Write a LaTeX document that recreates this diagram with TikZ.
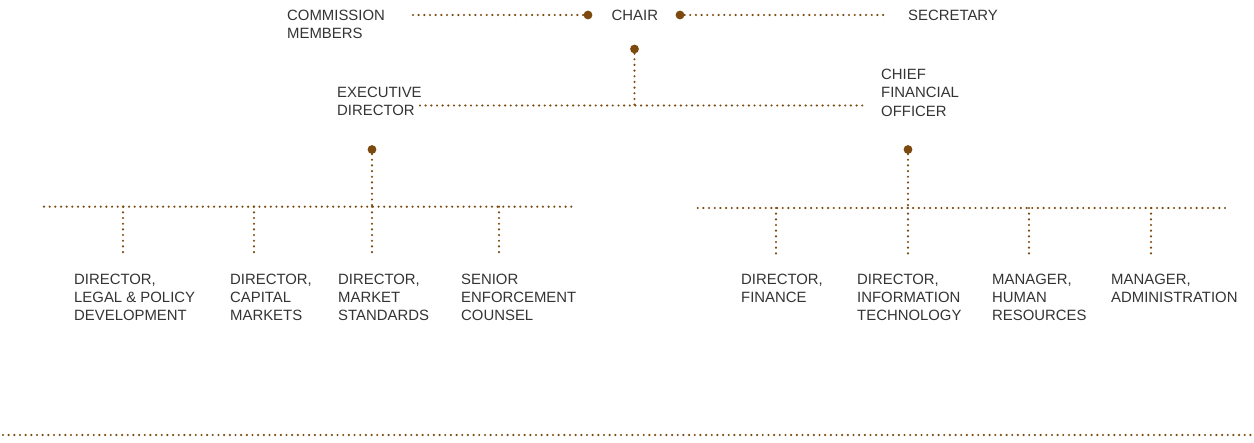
\documentclass[tikz,border=0pt]{standalone}
\usepackage{fontspec}
\setmainfont{Liberation Sans}
\definecolor{linkbrown}{RGB}{124,74,14}
\definecolor{labelgray}{RGB}{52,52,52}
\begin{document}
\begin{tikzpicture}[x=1pt,y=-1pt,
  link/.style={draw=linkbrown,line width=2.4pt,line cap=round,dash pattern=on 0pt off 5.67pt},
  bigdot/.style={circle,fill=linkbrown,inner sep=0pt,minimum size=8.8pt},
  label/.style={anchor=north west,inner sep=0pt,align=left,text=labelgray,
    font=\fontsize{14.9}{18.3}\selectfont}]
\useasboundingbox (0,0) rectangle (1254,443);

% --- top row: chair with commission members and secretary
\node[label] (members) at (287,10) {COMMISSION\\MEMBERS};
\node[label] (chair) at (611.5,9.8) {CHAIR};
\node[label] (secretary) at (908,9.8) {SECRETARY};
\node[bigdot] (chairL) at (588,15) {};
\node[bigdot] (chairR) at (680,15) {};
\node[bigdot] (chairB) at (634.5,49) {};
\coordinate (membersEnd) at (413,15);
\coordinate (secretaryEnd) at (887,15);
\draw[link] (membersEnd) -- (chairL);
\draw[link] (chairR) -- (secretaryEnd);

% --- second level: executive director and chief financial officer
\node[label] (exec) at (337,87) {EXECUTIVE\\DIRECTOR};
\node[label] (cfo) at (881,69) {CHIEF\\FINANCIAL\\OFFICER};
\coordinate (barL) at (420,105.5);
\coordinate (barR) at (867,105.5);
\coordinate (barMid) at (634.5,105.5);
\draw[link] (barL) -- (barR);
\draw[link] (chairB) -- (barMid);

% --- executive director branch
\node[bigdot] (execDot) at (372,149.5) {};
\coordinate (leftBarA) at (44,206.7);
\coordinate (leftBarB) at (572,206.7);
\coordinate (leftJoin) at (372,206.7);
\draw[link] (leftBarA) -- (leftBarB);
\draw[link] (execDot) -- (leftJoin);
\foreach \x/\n in {123/a,254/b,372/c,499/d}{
  \coordinate (ltop\n) at (\x,206.7);
  \coordinate (lbot\n) at (\x,253);
  \draw[link] (ltop\n) -- (lbot\n);
}
\node[label] (legal) at (74,273.5) {DIRECTOR,\\LEGAL \& POLICY\\DEVELOPMENT};
\node[label] (capital) at (230,273.5) {DIRECTOR,\\CAPITAL\\MARKETS};
\node[label] (standards) at (338,273.5) {DIRECTOR,\\MARKET\\STANDARDS};
\node[label] (enforce) at (461,273.5) {SENIOR\\ENFORCEMENT\\COUNSEL};

% --- chief financial officer branch
\node[bigdot] (cfoDot) at (908,149.5) {};
\coordinate (rightBarA) at (697.7,208);
\coordinate (rightBarB) at (1226,208);
\coordinate (rightJoin) at (908,208);
\draw[link] (rightBarA) -- (rightBarB);
\draw[link] (cfoDot) -- (rightJoin);
\foreach \x/\n in {776/a,908/b,1029/c,1151/d}{
  \coordinate (rtop\n) at (\x,208);
  \coordinate (rbot\n) at (\x,254.5);
  \draw[link] (rtop\n) -- (rbot\n);
}
\node[label] (finance) at (741,273.5) {DIRECTOR,\\FINANCE};
\node[label] (it) at (857,273.5) {DIRECTOR,\\INFORMATION\\TECHNOLOGY};
\node[label] (hr) at (992,273.5) {MANAGER,\\HUMAN\\RESOURCES};
\node[label] (admin) at (1111,273.5) {MANAGER,\\ADMINISTRATION};

% --- footer rule
\coordinate (footA) at (3,435);
\coordinate (footB) at (1251,435);
\draw[link] (footA) -- (footB);
\end{tikzpicture}
\end{document}
